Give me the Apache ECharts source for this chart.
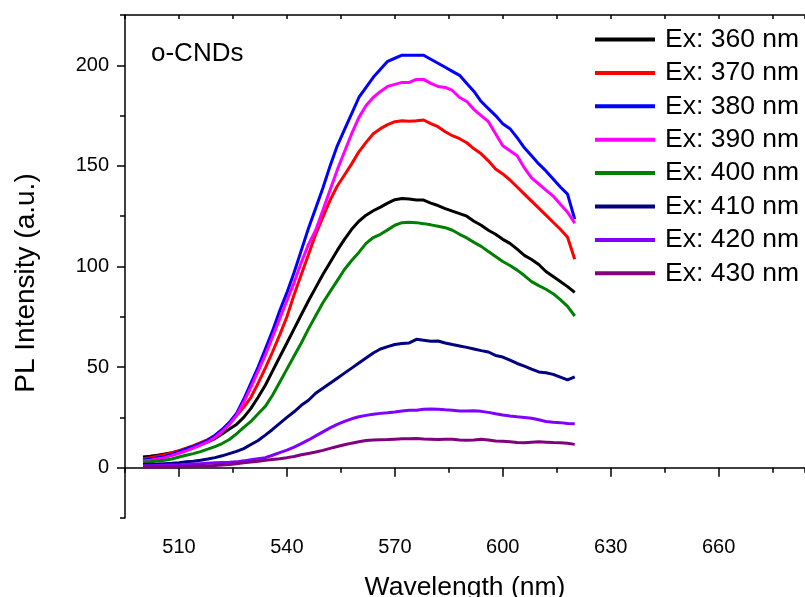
<!DOCTYPE html>
<html>
<head>
<meta charset="utf-8">
<script src="https://cdn.jsdelivr.net/npm/echarts@6/dist/echarts.min.js"></script>
<style>
  html, body { margin: 0; padding: 0; background: #fff; }
  #chart { width: 805px; height: 597px; }
</style>
</head>
<body>
<div id="chart"></div>
<script>
// Emission wavelengths (nm)
const wavelengths = [500, 502, 504, 506, 508, 510, 512, 514, 516, 518, 520, 522, 524, 526, 528, 530,
  532, 534, 536, 538, 540, 542, 544, 546, 548, 550, 552, 554, 556, 558, 560, 562, 564, 566, 568, 570,
  572, 574, 576, 578, 580, 582, 584, 586, 588, 590, 592, 594, 596, 598, 600, 602, 604, 606, 608, 610,
  612, 614, 616, 618, 620];

// PL intensity (a.u.) for each excitation wavelength
const ex360 = [5.3, 5.7, 6.2, 6.8, 7.5, 8.3, 9.2, 10.3, 11.5, 12.8, 14.5, 16.8, 19.2, 21.5, 25, 29.5,
  35, 41, 48, 55, 62, 69, 76, 83, 89.5, 96, 102, 108, 113.5, 118.5, 122.5, 125.5, 127.7, 129.5, 131.5, 133.2,
  133.8, 133.5, 133.1, 133, 131.5, 130.3, 128.8, 127.5, 126.3, 125, 122.5, 120.5, 118, 116, 113.5, 111.5, 108.6, 105.5, 103.5, 101,
  97.5, 95, 92.5, 90, 87.1];
const ex370 = [4.5, 5.0, 5.7, 6.4, 7.3, 8.5, 9.7, 11, 12.5, 14, 16, 18.8, 22, 26, 30, 35,
  42, 49.5, 57.5, 66, 75, 86, 96, 106, 116, 124.5, 133, 140, 145.5, 151, 157, 161.7, 166, 168.5, 170.5, 172,
  172.4, 172.2, 172.4, 172.8, 171, 169.5, 167, 165, 163.5, 161.5, 158.5, 156, 152.5, 148.5, 146, 143, 139.5, 136, 132.5, 129,
  125.5, 122, 118.5, 114.5, 103.6];
const ex380 = [3.8, 4.3, 4.9, 5.6, 6.6, 8.0, 9.3, 10.6, 12.0, 13.6, 16, 19, 22.5, 27, 34, 42,
  50, 59, 68, 78, 87, 97, 108, 119, 129, 139, 150, 160, 168, 176, 184, 189, 194, 198, 202, 203.5,
  205, 205, 205, 205, 203, 201, 199, 197, 195, 191, 187, 182, 178.5, 175, 171, 168.5, 164, 159, 155, 151,
  147.5, 143.5, 139.5, 136, 123.5];
const ex390 = [3.3, 3.7, 4.3, 5.0, 6.0, 7.2, 8.4, 9.8, 11.2, 12.8, 15, 18, 21.5, 26, 32.5, 40,
  48, 56, 65, 74, 83, 92, 102, 111, 118, 128, 138, 148, 157, 166, 174, 180, 184, 187, 189.5, 190.5,
  191.5, 191.5, 193, 193, 191, 189.5, 189, 187.5, 184, 182, 178, 175, 172, 166, 160, 157.5, 155, 149, 144, 141,
  138, 135, 131, 127, 121.5];
const ex400 = [2.8, 3.0, 3.3, 3.7, 4.3, 5.3, 6.2, 7.0, 8.0, 9.2, 10.5, 12, 14, 16.8, 20, 23,
  26.8, 30.5, 36, 42.5, 49, 55.5, 62, 69, 75.5, 82, 87.5, 93, 98.5, 103, 107, 111.5, 114.4, 116, 118.2, 120.5,
  121.8, 122, 121.8, 121.3, 120.7, 120, 119.3, 118, 116, 114.2, 112, 110, 107.5, 105, 102.5, 100.5, 98.2, 95.5, 92.5, 90.5,
  88.7, 86.5, 83.5, 80.2, 75.4];
const ex410 = [1.6, 1.7, 1.8, 2.0, 2.2, 2.5, 2.9, 3.2, 3.7, 4.3, 5.0, 5.9, 7.0, 8.1, 9.5, 11.5,
  13.5, 16.2, 19, 22, 25, 27.8, 31, 33.5, 37, 39.5, 42, 44.5, 47, 49.5, 52, 54.5, 57, 59, 60.2, 61.2,
  61.7, 62, 63.8, 63.3, 62.8, 63, 62, 61.2, 60.5, 59.8, 59, 58.2, 57.5, 55.8, 55, 53.5, 51.8, 50.5, 49, 47.6,
  47.2, 46.4, 45, 43.6, 45.1];
const ex420 = [1.0, 1.0, 1.1, 1.2, 1.3, 1.4, 1.6, 1.8, 2.0, 2.2, 2.4, 2.6, 2.7, 2.9, 3.4, 4.0,
  4.5, 5.0, 6.2, 7.5, 8.7, 10.2, 12, 13.8, 15.8, 17.8, 19.8, 21.5, 23, 24.3, 25.3, 26, 26.6, 27, 27.3, 27.7,
  28.2, 28.5, 28.6, 29.1, 29.2, 29.1, 28.8, 28.6, 28.2, 28.2, 28.3, 28, 27.5, 26.8, 26.2, 25.7, 25.3, 25, 24.6, 23.8,
  23, 22.6, 22.4, 22, 21.8];
const ex430 = [0.3, 0.3, 0.4, 0.4, 0.5, 0.5, 0.6, 0.7, 0.8, 0.9, 1.1, 1.3, 1.6, 2.0, 2.4, 2.8,
  3.2, 3.7, 4.1, 4.5, 5.0, 5.6, 6.4, 7.1, 7.8, 8.6, 9.6, 10.5, 11.4, 12.2, 12.9, 13.5, 13.8, 13.9, 14.0, 14.2,
  14.4, 14.4, 14.5, 14.3, 14.2, 14.0, 14.2, 14.1, 13.8, 13.7, 13.8, 14.1, 13.8, 13.3, 13.2, 12.9, 12.5, 12.4, 12.7, 12.9,
  12.7, 12.5, 12.4, 12.2, 11.6];

const seriesNames = ['Ex: 360 nm', 'Ex: 370 nm', 'Ex: 380 nm', 'Ex: 390 nm',
  'Ex: 400 nm', 'Ex: 410 nm', 'Ex: 420 nm', 'Ex: 430 nm'];
const seriesValues = [ex360, ex370, ex380, ex390, ex400, ex410, ex420, ex430];
const seriesColors = ['#000000', '#ff0000', '#0000ff', '#ff00ff',
  '#008000', '#000080', '#8000ff', '#800080'];

// Labelled ticks
const xTicks = [510, 540, 570, 600, 630, 660];
const yTicks = [0, 50, 100, 150, 200];

const FONT = 'Liberation Sans, Arial, sans-serif';

const chart = echarts.init(document.getElementById('chart'), null, { renderer: 'canvas' });

const series = seriesNames.map((name, i) => ({
  name: name,
  type: 'line',
  xAxisIndex: 0,
  yAxisIndex: 0,
  showSymbol: false,
  smooth: false,
  animation: false,
  lineStyle: { color: seriesColors[i], width: 3 },
  itemStyle: { color: seriesColors[i] },
  data: wavelengths.map((w, k) => [w, seriesValues[i][k]])
}));

const axisLineStyle = { color: '#000', width: 1.5 };

chart.setOption({
  animation: false,
  backgroundColor: '#ffffff',
  grid: { left: 125, top: 15, right: 0, bottom: 79, containLabel: false, outerBoundsMode: 'none' },
  xAxis: [
    {
      type: 'value', position: 'bottom', min: 495, max: 684, interval: 15,
      name: 'Wavelength (nm)', nameLocation: 'middle', nameGap: 56,
      nameTextStyle: { fontFamily: FONT, fontSize: 26.5, color: '#000' },
      axisLine: { show: true, lineStyle: axisLineStyle },
      axisTick: { show: true, length: 5, lineStyle: axisLineStyle },
      axisLabel: { customValues: xTicks, fontFamily: FONT, fontSize: 20, color: '#000', margin: 19 },
      splitLine: { show: false }
    },
    {
      type: 'value', position: 'bottom', min: 495, max: 684, interval: 15,
      axisLine: { show: false },
      axisTick: { show: true, customValues: xTicks, length: 9, lineStyle: axisLineStyle },
      axisLabel: { show: false },
      splitLine: { show: false }
    },
    {
      type: 'value', position: 'top', min: 495, max: 684, interval: 15,
      axisLine: { show: true, lineStyle: axisLineStyle },
      axisTick: { show: true, inside: true, length: 4, lineStyle: axisLineStyle },
      axisLabel: { show: false },
      splitLine: { show: false }
    }
  ],
  yAxis: [
    {
      type: 'value', position: 'left', min: -25, max: 225, interval: 25,
      axisLine: { show: true, lineStyle: axisLineStyle },
      axisTick: { show: true, length: 5, lineStyle: axisLineStyle },
      axisLabel: { customValues: yTicks, fontFamily: FONT, fontSize: 20, color: '#000', margin: 16 },
      splitLine: { show: false }
    },
    {
      type: 'value', position: 'left', min: -25, max: 225, interval: 25,
      axisLine: { show: false },
      axisTick: { show: true, customValues: yTicks, length: 8, lineStyle: axisLineStyle },
      axisLabel: { show: false },
      splitLine: { show: false }
    }
  ],
  legend: {
    orient: 'vertical',
    left: 595,
    top: 26,
    icon: 'rect',
    itemWidth: 60,
    itemHeight: 4,
    itemGap: 6.4,
    padding: 0,
    data: seriesNames,
    textStyle: { fontFamily: FONT, fontSize: 26.5, color: '#000', lineHeight: 26, padding: [0, 0, 0, 5] }
  },
  graphic: [
    {
      type: 'text',
      left: 151,
      top: 41,
      style: { text: 'o-CNDs', font: '26px ' + FONT, fill: '#000' }
    },
    {
      // Y-axis title, rotated
      type: 'text',
      x: 26,
      y: 283,
      rotation: Math.PI / 2,
      style: {
        text: 'PL Intensity (a.u.)',
        font: '28px ' + FONT,
        fill: '#000',
        textAlign: 'center',
        textVerticalAlign: 'middle'
      }
    }
  ],
  series: series
});
</script>
</body>
</html>
